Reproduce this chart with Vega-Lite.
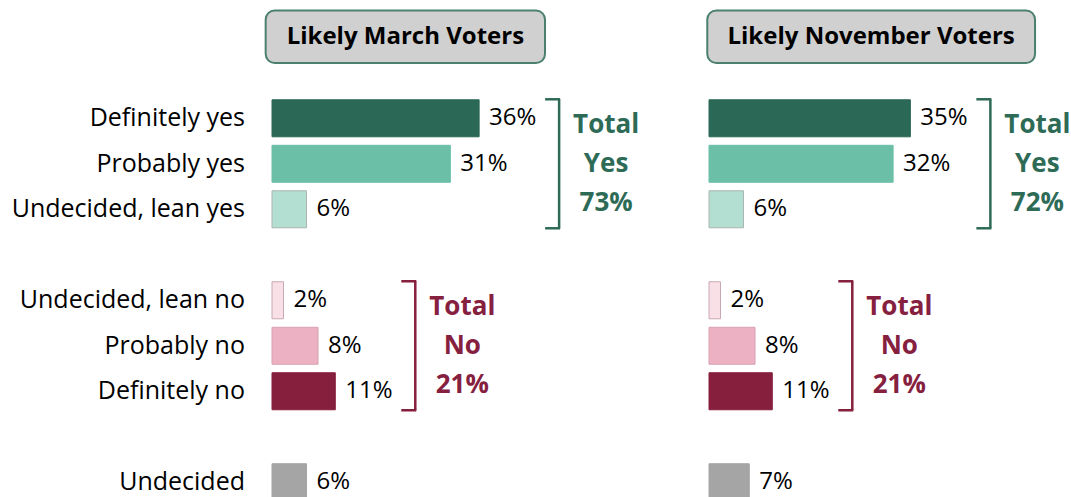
{
  "$schema": "https://vega.github.io/schema/vega-lite/v6.json",
  "autosize": {"type": "pad"},
  "padding": {"left": 11, "top": 0, "right": 0, "bottom": 0},
  "config": {"view": {"stroke": null}, "font": "Open Sans"},
  "spacing": 17,
  "bounds": "flush",
  "datasets": {
    "panels": [
      {"panel": "Likely March Voters"},
      {"panel": "Likely November Voters"}
    ],
    "bars": [
      {"panel": "Likely March Voters", "response": "Definitely yes", "side": "Yes", "row": 1, "pct": 0.36},
      {"panel": "Likely March Voters", "response": "Probably yes", "side": "Yes", "row": 2, "pct": 0.31},
      {"panel": "Likely March Voters", "response": "Undecided, lean yes", "side": "Yes", "row": 3, "pct": 0.06},
      {"panel": "Likely March Voters", "response": "Undecided, lean no", "side": "No", "row": 5, "pct": 0.02},
      {"panel": "Likely March Voters", "response": "Probably no", "side": "No", "row": 6, "pct": 0.08},
      {"panel": "Likely March Voters", "response": "Definitely no", "side": "No", "row": 7, "pct": 0.11},
      {"panel": "Likely March Voters", "response": "Undecided", "side": "Undecided", "row": 9, "pct": 0.06},
      {"panel": "Likely November Voters", "response": "Definitely yes", "side": "Yes", "row": 1, "pct": 0.35},
      {"panel": "Likely November Voters", "response": "Probably yes", "side": "Yes", "row": 2, "pct": 0.32},
      {"panel": "Likely November Voters", "response": "Undecided, lean yes", "side": "Yes", "row": 3, "pct": 0.06},
      {"panel": "Likely November Voters", "response": "Undecided, lean no", "side": "No", "row": 5, "pct": 0.02},
      {"panel": "Likely November Voters", "response": "Probably no", "side": "No", "row": 6, "pct": 0.08},
      {"panel": "Likely November Voters", "response": "Definitely no", "side": "No", "row": 7, "pct": 0.11},
      {"panel": "Likely November Voters", "response": "Undecided", "side": "Undecided", "row": 9, "pct": 0.07}
    ],
    "totals": [
      {"key": "Likely March Voters|Yes", "total": 0.73},
      {"key": "Likely March Voters|No", "total": 0.21},
      {"key": "Likely November Voters|Yes", "total": 0.72},
      {"key": "Likely November Voters|No", "total": 0.21}
    ]
  },
  "hconcat": [
    {
      "width": 420,
      "height": 505,
      "data": {"name": "bars"},
      "transform": [{"filter": "datum.panel === 'Likely March Voters'"}],
      "layer": [
        {
          "data": {"name": "panels"},
          "transform": [{"filter": "datum.panel === 'Likely March Voters'"}],
          "mark": {"type": "rect", "fill": "#d0d0d0", "stroke": "#4b8070", "strokeWidth": 2, "cornerRadius": 9},
          "encoding": {
            "x": {"datum": -0.011, "type": "quantitative", "scale": {"domain": [0, 0.73], "nice": false, "zero": true, "padding": 0}, "axis": null},
            "x2": {"datum": 0.4745},
            "y": {"datum": -1.369, "type": "quantitative", "scale": {"domain": [-1.6, 9.5], "reverse": true, "zero": false, "nice": false, "padding": 0}, "axis": null},
            "y2": {"datum": -0.215}
          }
        },
        {
          "data": {"name": "panels"},
          "transform": [{"filter": "datum.panel === 'Likely March Voters'"}],
          "mark": {"type": "text", "fontSize": 24, "fontWeight": "bold", "color": "#000000", "baseline": "middle", "align": "center"},
          "encoding": {
            "x": {"datum": 0.2318, "type": "quantitative"},
            "y": {"datum": -0.792, "type": "quantitative"},
            "text": {"field": "panel"}
          }
        },
        {
          "mark": {"type": "bar", "orient": "horizontal", "height": 37, "strokeWidth": 1},
          "encoding": {
            "x": {"field": "pct", "type": "quantitative"},
            "y": {"field": "row", "type": "quantitative"},
            "fill": {"field": "response", "type": "nominal", "legend": null,
              "scale": {"domain": ["Definitely yes", "Probably yes", "Undecided, lean yes", "Undecided, lean no", "Probably no", "Definitely no", "Undecided"],
                        "range": ["#2b6856", "#6bbfa7", "#b3ded2", "#f8e0e6", "#ecb1c2", "#861e3d", "#a5a5a5"]}},
            "stroke": {"field": "response", "type": "nominal", "legend": null,
              "scale": {"domain": ["Definitely yes", "Probably yes", "Undecided, lean yes", "Undecided, lean no", "Probably no", "Definitely no", "Undecided"],
                        "range": ["#2b6856", "#6bbfa7", "#a9b5b0", "#c9a9b3", "#d8a3b3", "#861e3d", "#a5a5a5"]}}
          }
        },
        {
          "mark": {"type": "text", "align": "left", "baseline": "middle", "dx": 10, "fontSize": 24, "color": "#000000"},
          "encoding": {
            "x": {"field": "pct", "type": "quantitative"},
            "y": {"field": "row", "type": "quantitative"},
            "text": {"field": "pct", "type": "quantitative", "format": ".0%"}
          }
        },
        {
          "mark": {"type": "text", "align": "right", "baseline": "middle", "dx": -27, "fontSize": 25, "color": "#000000"},
          "encoding": {
            "x": {"datum": 0, "type": "quantitative"},
            "y": {"field": "row", "type": "quantitative"},
            "text": {"field": "response"}
          }
        },
        {
          "transform": [
            {"filter": "datum.side !== 'Undecided'"},
            {"aggregate": [{"op": "max", "field": "pct", "as": "maxpct"}, {"op": "min", "field": "row", "as": "r0"}, {"op": "max", "field": "row", "as": "r1"}, {"op": "mean", "field": "row", "as": "rm"}], "groupby": ["panel", "side"]},
            {"calculate": "datum.panel + '|' + datum.side", "as": "key"},
            {"lookup": "key", "from": {"data": {"name": "totals"}, "key": "key", "fields": ["total"]}}
          ],
          "encoding": {
            "color": {"field": "side", "type": "nominal", "legend": null, "scale": {"domain": ["Yes", "No"], "range": ["#2e6b57", "#86203f"]}}
          },
          "layer": [
            {
              "mark": {"type": "rule", "strokeWidth": 2.5, "xOffset": 80, "yOffset": -19, "y2Offset": 19},
              "encoding": {"x": {"field": "maxpct", "type": "quantitative"}, "y": {"field": "r0", "type": "quantitative"}, "y2": {"field": "r1"}}
            },
            {
              "mark": {"type": "rule", "strokeWidth": 2.5, "xOffset": 66, "x2Offset": 81, "yOffset": -19},
              "encoding": {"x": {"field": "maxpct", "type": "quantitative"}, "x2": {"field": "maxpct"}, "y": {"field": "r0", "type": "quantitative"}}
            },
            {
              "mark": {"type": "rule", "strokeWidth": 2.5, "xOffset": 66, "x2Offset": 81, "yOffset": 19},
              "encoding": {"x": {"field": "maxpct", "type": "quantitative"}, "x2": {"field": "maxpct"}, "y": {"field": "r1", "type": "quantitative"}}
            },
            {
              "mark": {"type": "text", "fontSize": 26, "fontWeight": "bold", "align": "center", "baseline": "middle", "xOffset": 127, "dy": -39},
              "encoding": {"x": {"field": "maxpct", "type": "quantitative"}, "y": {"field": "rm", "type": "quantitative"}, "text": {"value": "Total"}}
            },
            {
              "mark": {"type": "text", "fontSize": 26, "fontWeight": "bold", "align": "center", "baseline": "middle", "xOffset": 127},
              "encoding": {"x": {"field": "maxpct", "type": "quantitative"}, "y": {"field": "rm", "type": "quantitative"}, "text": {"field": "side"}}
            },
            {
              "mark": {"type": "text", "fontSize": 26, "fontWeight": "bold", "align": "center", "baseline": "middle", "xOffset": 127, "dy": 39},
              "encoding": {"x": {"field": "maxpct", "type": "quantitative"}, "y": {"field": "rm", "type": "quantitative"}, "text": {"field": "total", "type": "quantitative", "format": ".0%"}}
            }
          ]
        }
      ]
    },
    {
      "width": 420,
      "height": 505,
      "data": {"name": "bars"},
      "transform": [{"filter": "datum.panel === 'Likely November Voters'"}],
      "layer": [
        {
          "data": {"name": "panels"},
          "transform": [{"filter": "datum.panel === 'Likely November Voters'"}],
          "mark": {"type": "rect", "fill": "#d0d0d0", "stroke": "#4b8070", "strokeWidth": 2, "cornerRadius": 9},
          "encoding": {
            "x": {"datum": -0.003, "type": "quantitative", "scale": {"domain": [0, 0.73], "nice": false, "zero": true, "padding": 0}, "axis": null},
            "x2": {"datum": 0.5667},
            "y": {"datum": -1.369, "type": "quantitative", "scale": {"domain": [-1.6, 9.5], "reverse": true, "zero": false, "nice": false, "padding": 0}, "axis": null},
            "y2": {"datum": -0.215}
          }
        },
        {
          "data": {"name": "panels"},
          "transform": [{"filter": "datum.panel === 'Likely November Voters'"}],
          "mark": {"type": "text", "fontSize": 24, "fontWeight": "bold", "color": "#000000", "baseline": "middle", "align": "center"},
          "encoding": {
            "x": {"datum": 0.2818, "type": "quantitative"},
            "y": {"datum": -0.792, "type": "quantitative"},
            "text": {"field": "panel"}
          }
        },
        {
          "mark": {"type": "bar", "orient": "horizontal", "height": 37, "strokeWidth": 1},
          "encoding": {
            "x": {"field": "pct", "type": "quantitative"},
            "y": {"field": "row", "type": "quantitative"},
            "fill": {"field": "response", "type": "nominal", "legend": null,
              "scale": {"domain": ["Definitely yes", "Probably yes", "Undecided, lean yes", "Undecided, lean no", "Probably no", "Definitely no", "Undecided"],
                        "range": ["#2b6856", "#6bbfa7", "#b3ded2", "#f8e0e6", "#ecb1c2", "#861e3d", "#a5a5a5"]}},
            "stroke": {"field": "response", "type": "nominal", "legend": null,
              "scale": {"domain": ["Definitely yes", "Probably yes", "Undecided, lean yes", "Undecided, lean no", "Probably no", "Definitely no", "Undecided"],
                        "range": ["#2b6856", "#6bbfa7", "#a9b5b0", "#c9a9b3", "#d8a3b3", "#861e3d", "#a5a5a5"]}}
          }
        },
        {
          "mark": {"type": "text", "align": "left", "baseline": "middle", "dx": 10, "fontSize": 24, "color": "#000000"},
          "encoding": {
            "x": {"field": "pct", "type": "quantitative"},
            "y": {"field": "row", "type": "quantitative"},
            "text": {"field": "pct", "type": "quantitative", "format": ".0%"}
          }
        },
        {
          "transform": [
            {"filter": "datum.side !== 'Undecided'"},
            {"aggregate": [{"op": "max", "field": "pct", "as": "maxpct"}, {"op": "min", "field": "row", "as": "r0"}, {"op": "max", "field": "row", "as": "r1"}, {"op": "mean", "field": "row", "as": "rm"}], "groupby": ["panel", "side"]},
            {"calculate": "datum.panel + '|' + datum.side", "as": "key"},
            {"lookup": "key", "from": {"data": {"name": "totals"}, "key": "key", "fields": ["total"]}}
          ],
          "encoding": {
            "color": {"field": "side", "type": "nominal", "legend": null, "scale": {"domain": ["Yes", "No"], "range": ["#2e6b57", "#86203f"]}}
          },
          "layer": [
            {
              "mark": {"type": "rule", "strokeWidth": 2.5, "xOffset": 80, "yOffset": -19, "y2Offset": 19},
              "encoding": {"x": {"field": "maxpct", "type": "quantitative"}, "y": {"field": "r0", "type": "quantitative"}, "y2": {"field": "r1"}}
            },
            {
              "mark": {"type": "rule", "strokeWidth": 2.5, "xOffset": 66, "x2Offset": 81, "yOffset": -19},
              "encoding": {"x": {"field": "maxpct", "type": "quantitative"}, "x2": {"field": "maxpct"}, "y": {"field": "r0", "type": "quantitative"}}
            },
            {
              "mark": {"type": "rule", "strokeWidth": 2.5, "xOffset": 66, "x2Offset": 81, "yOffset": 19},
              "encoding": {"x": {"field": "maxpct", "type": "quantitative"}, "x2": {"field": "maxpct"}, "y": {"field": "r1", "type": "quantitative"}}
            },
            {
              "mark": {"type": "text", "fontSize": 26, "fontWeight": "bold", "align": "center", "baseline": "middle", "xOffset": 127, "dy": -39},
              "encoding": {"x": {"field": "maxpct", "type": "quantitative"}, "y": {"field": "rm", "type": "quantitative"}, "text": {"value": "Total"}}
            },
            {
              "mark": {"type": "text", "fontSize": 26, "fontWeight": "bold", "align": "center", "baseline": "middle", "xOffset": 127},
              "encoding": {"x": {"field": "maxpct", "type": "quantitative"}, "y": {"field": "rm", "type": "quantitative"}, "text": {"field": "side"}}
            },
            {
              "mark": {"type": "text", "fontSize": 26, "fontWeight": "bold", "align": "center", "baseline": "middle", "xOffset": 127, "dy": 39},
              "encoding": {"x": {"field": "maxpct", "type": "quantitative"}, "y": {"field": "rm", "type": "quantitative"}, "text": {"field": "total", "type": "quantitative", "format": ".0%"}}
            }
          ]
        }
      ]
    }
  ]
}
